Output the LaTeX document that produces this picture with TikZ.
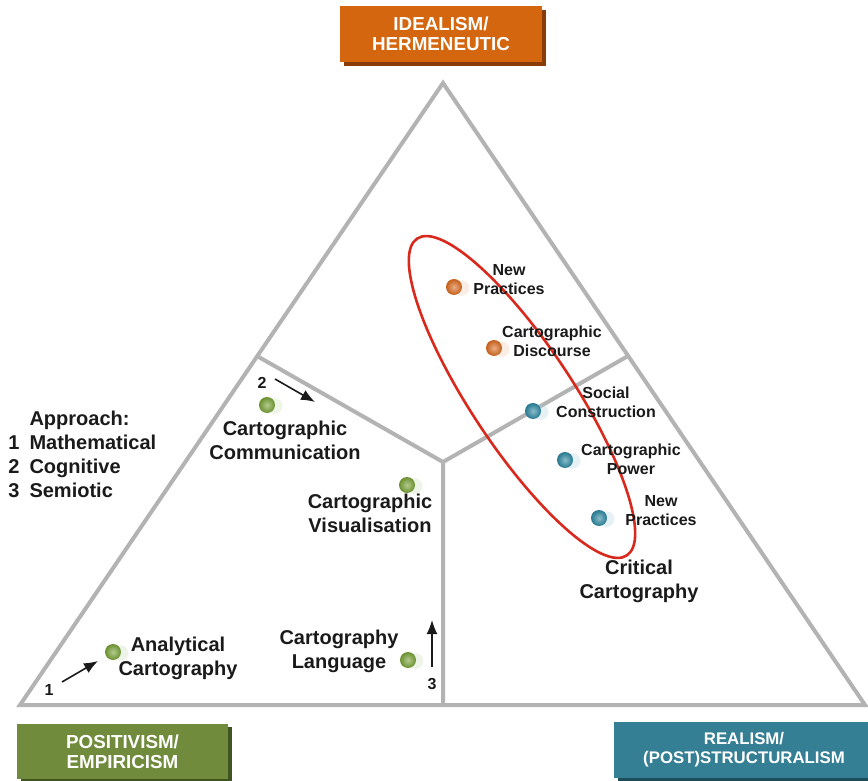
\documentclass[tikz,border=0pt]{standalone}
\usepackage{fontspec}
\setmainfont{Liberation Sans}
\usetikzlibrary{arrows.meta,shadows}
\definecolor{Ide}{HTML}{D4660F}
\definecolor{IdeDk}{HTML}{8A3C08}
\definecolor{Pos}{HTML}{6F8B3B}
\definecolor{PosDk}{HTML}{3F5420}
\definecolor{Rea}{HTML}{347F94}
\definecolor{ReaDk}{HTML}{1E4D5A}
\definecolor{Frame}{HTML}{B3B3B3}
\definecolor{Loop}{HTML}{D9291C}
\definecolor{BallO}{HTML}{D96A1E}
\definecolor{BallT}{HTML}{2A86A0}
\definecolor{BallG}{HTML}{76A034}
\definecolor{Ink}{HTML}{1A1A1A}

\begin{document}
\begin{tikzpicture}[
  x=0.5pt, y=-0.5pt,
  >=Latex,
  edge/.style={draw=Frame, line width=2pt},
  camp/.style={inner sep=0pt, text=white, align=center, font=\fontsize{9.4}{10}\selectfont\bfseries},
  big/.style={text=Ink, align=center, font=\fontsize{10}{12}\selectfont\bfseries},
  sml/.style={text=Ink, align=center, font=\fontsize{8}{9.5}\selectfont\bfseries},
  num/.style={text=Ink, font=\fontsize{8}{9.5}\selectfont\bfseries},
  dot/.style={circle, inner sep=0pt, minimum size=8pt, shading=radial,
    inner color=#1!55!white, outer color=#1!90!black,
    circular drop shadow={shadow xshift=3.5pt, shadow yshift=-0.3pt, shadow scale=1.05, opacity=0.3, fill=#1!40}},
  arr/.style={->, >={Latex[length=7pt,width=5.5pt]}, line width=0.8pt, draw=Ink},
]
\useasboundingbox (0,0) rectangle (868,781);

% corner boxes
\node[camp, fill=Ide, minimum width=101pt, minimum height=28pt,
  drop shadow={shadow xshift=2pt, shadow yshift=-2pt, opacity=1, fill=IdeDk}]
  (ideal) at (441,34) {IDEALISM/\\HERMENEUTIC};
\node[camp, fill=Pos, minimum width=105.5pt, minimum height=27.5pt,
  drop shadow={shadow xshift=2pt, shadow yshift=-1.5pt, opacity=1, fill=PosDk}]
  (posit) at (122.5,751.5) {POSITIVISM/\\EMPIRICISM};
\node[camp, fill=Rea, minimum width=130pt, minimum height=28pt,
  font=\fontsize{8.4}{9.6}\selectfont\bfseries,
  drop shadow={shadow xshift=2pt, shadow yshift=-1.5pt, opacity=1, fill=ReaDk}]
  (real) at (744,750) {REALISM/\\(POST)STRUCTURALISM};

% triangle and its three fields
\coordinate (top) at (443,83);
\coordinate (bl) at (20,705);
\coordinate (br) at (865,705);
\coordinate (mid) at (443,462);
\coordinate (ml) at (257,356);
\coordinate (mr) at (628,356);
\coordinate (mb) at (443,705);
\draw[edge] (top) -- (br) -- (bl) -- cycle;
\draw[edge] (ml) -- (mid) -- (mr) (mid) -- (mb);

% critical group
\draw[Loop, line width=1.3pt] (522,397) circle[x radius=95pt, y radius=25.5pt, rotate=-56.5];

% dots
\node[dot=BallO] (np1) at (454,287) {};
\node[dot=BallO] (cd) at (494,348) {};
\node[dot=BallT] (sc) at (533,411) {};
\node[dot=BallT] (cp) at (565,460) {};
\node[dot=BallT] (np2) at (599,518) {};
\node[dot=BallG] (cc) at (267,405) {};
\node[dot=BallG] (cv) at (407,485) {};
\node[dot=BallG] (ac) at (113,652) {};
\node[dot=BallG] (cl) at (408,660) {};

% labels
\node[sml] (np1l) at (509,280) {New\\Practices};
\node[sml] (cdl) at (552,341) {Cartographic\\Discourse};
\node[sml] (scl) at (606,402) {Social\\Construction};
\node[sml] (cpl) at (631,459) {Cartographic\\Power};
\node[sml] (np2l) at (661,511) {New\\Practices};
\node[big] (crit) at (639,581) {Critical\\Cartography};
\node[big] (ccl) at (285,440) {Cartographic\\Communication};
\node[big] (cvl) at (370,513) {Cartographic\\Visualisation};
\node[big] (cll) at (339,651) {Cartography\\Language};
\node[big] (acl) at (178,658) {Analytical\\Cartography};
\node[big, align=left, anchor=north west, inner sep=0pt] (appr) at (8,408) {%
  \begin{tabular}{@{}l@{\hspace{5pt}}l@{}}
   & Approach:\\
  1 & Mathematical\\
  2 & Cognitive\\
  3 & Semiotic
  \end{tabular}};

% approach arrows
\coordinate (a1s) at (62,682);
\coordinate (a1e) at (98,661);
\coordinate (a2s) at (275,379);
\coordinate (a2e) at (315,402);
\coordinate (a3s) at (432,667);
\coordinate (a3e) at (432,620);
\draw[arr] (a1s) -- (a1e);
\draw[arr] (a2s) -- (a2e);
\draw[arr] (a3s) -- (a3e);
\node[num] (n1) at (49,690) {1};
\node[num] (n2) at (262,383) {2};
\node[num] (n3) at (432,684) {3};
\end{tikzpicture}
\end{document}
